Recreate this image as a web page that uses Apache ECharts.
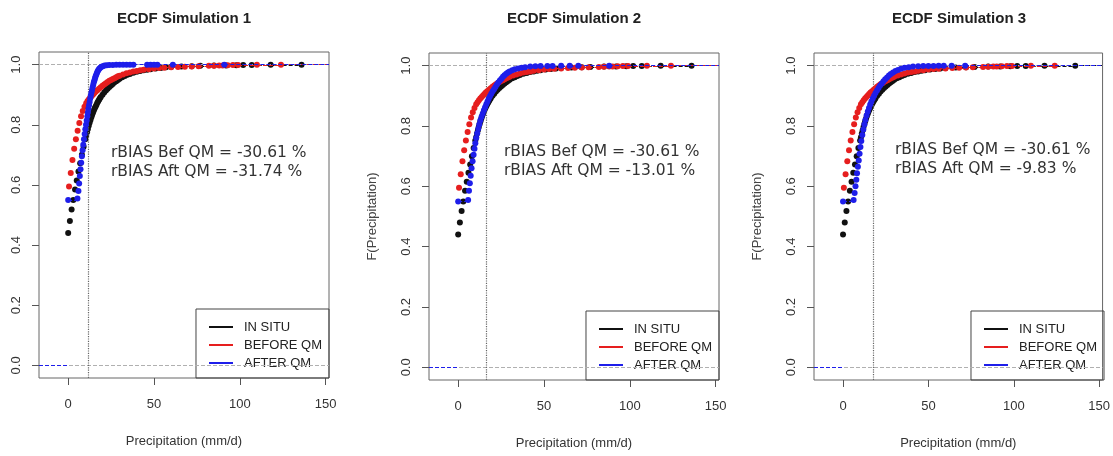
<!DOCTYPE html>
<html>
<head>
<meta charset="utf-8">
<script src="https://cdn.jsdelivr.net/npm/echarts@6/dist/echarts.min.js"></script>
<style>
html,body{margin:0;padding:0;background:#ffffff;}
#c{width:1113px;height:456px;}
</style>
</head>
<body>
<div id="c"></div>
<script>
// ---------- data ----------
const panelTitles = ['ECDF Simulation 1', 'ECDF Simulation 2', 'ECDF Simulation 3'];
const seriesNames = ['IN SITU', 'BEFORE QM', 'AFTER QM'];
const xTickValues = [0, 50, 100, 150];
const yTickValues = [0, 0.2, 0.4, 0.6, 0.8, 1.0];
const thresholds = [11.5, 16.5, 17.5];
const rbiasBefore = ['-30.61', '-30.61', '-30.61'];
const rbiasAfter = ['-31.74', '-13.01', '-9.83'];

// in situ ECDF (same in all panels)
const inSituX = [0,1,2,3,4,5,6,7,8,9,10,10.5,11,11.5,12,12.5,13,13.5,14,14.5,15,15.5,16,16.5,17,17.5,18,18.5,19,20,21,22,23,24,25,26,27,28,29,30,31.5,33,34.5,36,38,40,42,44,46,48,51,54,57,60,66,72,77,85,92,98,102,107,118,136];
const inSituF = [0.44,0.48,0.518,0.55,0.585,0.615,0.645,0.672,0.7,0.727,0.752,0.763,0.775,0.786,0.797,0.807,0.816,0.825,0.833,0.841,0.848,0.855,0.861,0.867,0.873,0.878,0.883,0.888,0.892,0.9,0.907,0.914,0.92,0.926,0.931,0.936,0.941,0.945,0.949,0.953,0.958,0.962,0.966,0.969,0.973,0.976,0.979,0.981,0.983,0.985,0.987,0.989,0.991,0.992,0.994,0.995,0.996,0.997,0.9975,0.998,0.9985,0.999,0.9995,1.0];

// model before QM (same in all panels)
const beforeX = [0.5,1.5,2.5,3.5,4.5,5.5,6.5,7.5,8.5,9.5,10.5,11.3,12.1,12.9,13.7,14.5,15.3,16.1,17,18,19,20,21,22,23,24,25,26,27,28,29,30,32,34,36,38,40,42,44,47,50,53,56,60,64,68,72,76,82,85,88,90,93,96,99,110,124];
const beforeF = [0.595,0.64,0.683,0.72,0.752,0.78,0.806,0.828,0.846,0.86,0.872,0.879,0.885,0.891,0.896,0.901,0.906,0.911,0.915,0.92,0.925,0.93,0.934,0.938,0.942,0.946,0.949,0.952,0.955,0.958,0.961,0.963,0.967,0.971,0.974,0.977,0.979,0.981,0.983,0.985,0.987,0.989,0.99,0.991,0.992,0.993,0.994,0.995,0.996,0.9965,0.997,0.9975,0.998,0.9985,0.999,0.9995,1.0];

// after QM, simulation 1
const after1X = [0,5.4,6.0,6.4,6.8,7.2,7.6,8.0,8.4,8.8,9.2,9.6,10.0,10.4,10.8,11.2,11.5,11.8,12.15,12.5,12.85,13.2,13.55,13.9,14.25,14.6,14.95,15.3,15.65,16.0,16.4,16.8,17.2,17.6,18.1,18.7,19.4,20.2,21.2,22.5,24,26,28,30,32,34,36,38,46,48,50,52,61,91];
const after1F = [0.55,0.555,0.58,0.605,0.63,0.652,0.674,0.695,0.715,0.734,0.752,0.769,0.785,0.8,0.814,0.828,0.841,0.853,0.865,0.876,0.887,0.897,0.907,0.916,0.925,0.933,0.941,0.948,0.955,0.961,0.967,0.973,0.978,0.982,0.986,0.99,0.993,0.995,0.997,0.998,0.9985,0.999,0.9992,0.9994,0.9995,0.9996,0.9997,0.9998,0.99985,0.9999,0.99993,0.99996,0.99998,1.0];

// after QM, simulation 2
const after2X = [0,5.8,6.3,6.8,7.3,7.8,8.4,9.0,9.5,10.0,10.5,11.1,11.7,12.3,12.9,13.6,14.3,15.0,15.7,16.4,17.1,17.8,18.5,19.3,20.1,20.9,21.7,22.5,23.4,24.3,25.2,26.1,27.0,28.0,29.0,30.0,31.5,33,35,37,39,42,45,48,52,55,60,65,70,88];
const after2F = [0.55,0.555,0.585,0.61,0.635,0.66,0.683,0.705,0.725,0.743,0.76,0.776,0.791,0.805,0.818,0.83,0.841,0.852,0.862,0.872,0.881,0.89,0.899,0.907,0.915,0.922,0.929,0.937,0.944,0.951,0.957,0.963,0.968,0.973,0.977,0.981,0.985,0.988,0.991,0.993,0.995,0.997,0.998,0.9985,0.999,0.9992,0.9995,0.9997,0.9999,1.0];

// after QM, simulation 3
const after3X = [0,6.2,6.8,7.3,7.8,8.2,8.7,9.2,9.7,10.2,10.7,11.3,11.9,12.5,13.1,13.8,14.5,15.2,15.9,16.6,17.4,18.2,19.0,19.9,20.8,21.7,22.7,23.7,24.7,25.8,26.9,28.0,29.3,30.7,32.2,34,36,38.5,41,44,47,50,53,56,59,63.6,71.5];
const after3F = [0.55,0.555,0.578,0.6,0.622,0.643,0.665,0.686,0.708,0.73,0.75,0.77,0.788,0.805,0.82,0.835,0.848,0.86,0.871,0.881,0.891,0.9,0.909,0.918,0.926,0.934,0.941,0.948,0.955,0.961,0.967,0.972,0.977,0.982,0.986,0.99,0.993,0.995,0.997,0.998,0.9985,0.999,0.9993,0.9995,0.9997,0.9999,1.0];

// ---------- layout ----------
const X_MIN = -17, X_MAX = 152, Y_MIN = -0.042, Y_MAX = 1.042;
const gridLeft = [39, 429, 814];
const gridTop = [52, 53, 53];
const gridHeight = [326, 327, 327];
const gridWidth = 290;
const annotLeft = [111, 504, 895];
const annotTop = [153, 152, 150];
const colors = ['#111111', '#e61e1e', '#1e1eea'];
const FONT = 'Liberation Sans, Arial, sans-serif';

const afterX = [after1X, after2X, after3X];
const afterF = [after1F, after2F, after3F];

function points(xs, fs) { return xs.map((x, i) => [x, fs[i]]); }
function steps(xs, fs) {
  const s = [{ coords: [[X_MIN, 0], [xs[0], 0]] }];
  for (let i = 0; i < xs.length - 1; i++) s.push({ coords: [[xs[i], fs[i]], [xs[i + 1], fs[i]]] });
  s.push({ coords: [[xs[xs.length - 1], fs[fs.length - 1]], [X_MAX, fs[fs.length - 1]]] });
  return s;
}

const grids = [], xAxes = [], yAxes = [], series = [], titles = [], legends = [], graphics = [];
for (let p = 0; p < 3; p++) {
  grids.push({ left: gridLeft[p], top: gridTop[p], width: gridWidth, height: gridHeight[p],
    show: true, borderColor: '#666', borderWidth: 1, backgroundColor: 'transparent' });
  xAxes.push({ type: 'value', gridIndex: p, min: X_MIN, max: X_MAX, position: 'bottom',
    axisLine: { show: false, onZero: false },
    axisTick: { show: true, length: 7, customValues: xTickValues, lineStyle: { color: '#555' } },
    axisLabel: { customValues: xTickValues, margin: 20, fontSize: 13, color: '#333', fontFamily: FONT },
    splitLine: { show: false },
    name: 'Precipitation (mm/d)', nameLocation: 'middle', nameGap: 57,
    nameTextStyle: { fontSize: 13, color: '#333', fontFamily: FONT } });
  yAxes.push({ type: 'value', gridIndex: p, min: Y_MIN, max: Y_MAX, position: 'left',
    axisLine: { show: false, onZero: false },
    axisTick: { show: true, length: 7, customValues: yTickValues, lineStyle: { color: '#555' } },
    axisLabel: { customValues: yTickValues, rotate: 90, margin: 16, fontSize: 13, color: '#333', fontFamily: FONT,
      formatter: v => v.toFixed(1) },
    splitLine: { show: false },
    name: p > 0 ? 'F(Precipitation)' : '', nameLocation: 'middle', nameGap: 50,
    nameTextStyle: { fontSize: 13, color: '#444', fontFamily: FONT } });

  const xsList = [inSituX, beforeX, afterX[p]];
  const fsList = [inSituF, beforeF, afterF[p]];
  for (let k = 0; k < 3; k++) {
    const stepSeries = { type: 'lines', name: 'step-' + k + '-' + p, coordinateSystem: 'cartesian2d',
      xAxisIndex: p, yAxisIndex: p, silent: true, z: 2 + k * 2,
      lineStyle: { color: colors[k], width: 1, type: 'dashed', opacity: 1 },
      data: steps(xsList[k], fsList[k]) };
    if (k === 0) {
      stepSeries.markLine = { symbol: 'none', silent: true, label: { show: false },
        data: [
          { yAxis: 0, lineStyle: { color: '#b0b0b0', type: 'dashed', width: 1 } },
          { yAxis: 1, lineStyle: { color: '#b0b0b0', type: 'dashed', width: 1 } },
          { xAxis: thresholds[p], lineStyle: { color: '#666', type: 'dotted', width: 1.2 } }
        ] };
    }
    series.push(stepSeries);
    series.push({ type: 'scatter', name: seriesNames[k], xAxisIndex: p, yAxisIndex: p,
      symbol: 'circle', symbolSize: 6, z: 3 + k * 2,
      itemStyle: { color: colors[k], opacity: 1 },
      data: points(xsList[k], fsList[k]) });
  }

  titles.push({ text: panelTitles[p], left: gridLeft[p] + gridWidth / 2, top: 11, padding: 0,
    textAlign: 'center',
    textStyle: { fontSize: 15, fontWeight: 'bold', fontFamily: FONT, color: '#222' } });

  legends.push({ right: 1113 - (gridLeft[p] + gridWidth), bottom: 456 - (gridTop[p] + gridHeight[p]),
    orient: 'vertical', data: seriesNames, icon: 'rect', itemWidth: 24, itemHeight: 2, itemGap: 4,
    borderColor: '#444', borderWidth: 1, padding: [11, 7, 8, 13], selectedMode: false,
    textStyle: { fontSize: 13, fontFamily: FONT, color: '#222', padding: [0, 0, 0, 6], lineHeight: 14 } });

  graphics.push({ type: 'text', x: annotLeft[p], y: annotTop[p],
    style: { text: 'rBIAS Bef QM = ' + rbiasBefore[p] + ' %', fontSize: 15.5, fontFamily: 'DejaVu Sans', fill: '#333', verticalAlign: 'middle' } });
  graphics.push({ type: 'text', x: annotLeft[p], y: annotTop[p] + 19,
    style: { text: 'rBIAS Aft QM = ' + rbiasAfter[p] + ' %', fontSize: 15.5, fontFamily: 'DejaVu Sans', fill: '#333', verticalAlign: 'middle' } });
}

const chart = echarts.init(document.getElementById('c'));
chart.setOption({
  animation: false,
  backgroundColor: '#ffffff',
  title: titles,
  legend: legends,
  grid: grids,
  xAxis: xAxes,
  yAxis: yAxes,
  series: series,
  graphic: graphics
});
</script>
</body>
</html>
